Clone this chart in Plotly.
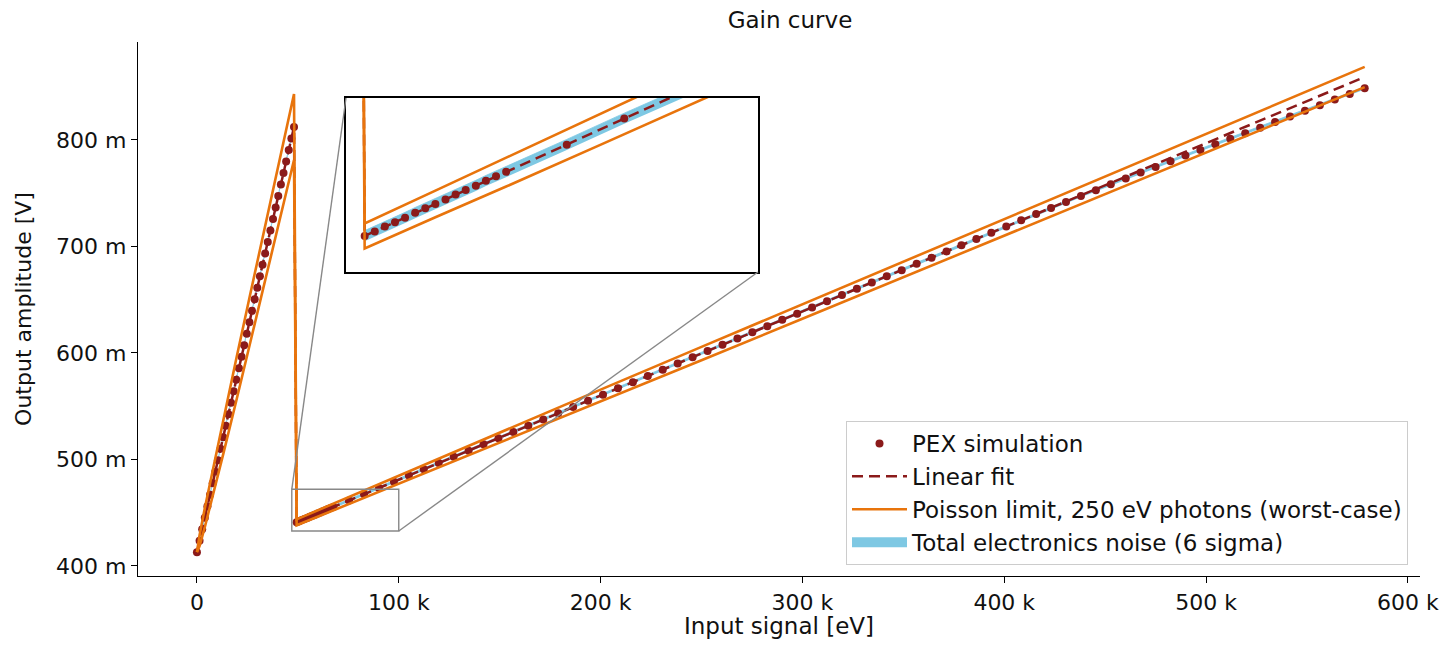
import plotly.graph_objects as go

# ---------------- data (input in keV, output in mV) ----------------
# high-gain range simulation points
hg_x = [0.0, 1.3, 2.6, 3.9, 5.2, 6.5, 7.8, 9.1, 10.4, 11.7, 13.0, 14.3, 15.6, 16.9,
        18.2, 19.5, 20.8, 22.1, 23.4, 24.7, 26.0, 27.3, 28.6, 29.9, 31.2, 32.5,
        33.8, 35.1, 36.4, 37.7, 39.0, 40.3, 41.6, 42.9, 44.2, 45.5, 46.8, 48.1]
hg_y = [413.0, 423.8, 434.6, 445.4, 456.2, 467.0, 477.7, 488.5, 499.3, 510.1,
        520.9, 531.7, 542.5, 553.3, 564.1, 574.9, 585.6, 596.4, 607.2, 618.0,
        628.8, 639.6, 650.4, 661.2, 672.0, 682.8, 693.5, 704.3, 715.1, 725.9,
        736.7, 747.5, 758.3, 769.1, 779.9, 790.7, 801.4, 812.2]

# low-gain range simulation points
lg_x = [49.4, 50.7, 52.0, 53.3, 54.6, 55.9, 57.2, 58.5, 59.8, 61.1, 62.4, 63.7,
        65.0, 66.3, 67.6,
        75.4, 82.8, 90.2, 97.6, 105.0, 112.4, 119.8, 127.2, 134.6, 142.0, 149.4,
        156.8, 164.2, 171.6, 179.0, 186.4, 193.8, 201.2, 208.6, 216.0, 223.4,
        230.8, 238.2, 245.6, 253.0, 260.4, 267.8, 275.2, 282.6, 290.0, 297.4,
        304.8, 312.2, 319.6, 327.0, 334.4, 341.8, 349.2, 356.6, 364.0, 371.4,
        378.8, 386.2, 393.6, 401.0, 408.4, 415.8, 423.2, 430.6, 438.0, 445.4,
        452.8, 460.2, 467.6, 475.0, 482.4, 489.8, 497.2, 504.6, 512.0, 519.4,
        526.8, 534.2, 541.6, 549.0, 556.4, 563.8, 571.2, 578.6]
lg_y = [441.0, 442.0, 443.1, 444.1, 445.1, 446.2, 447.2, 448.2, 449.2, 450.3,
        451.3, 452.3, 453.4, 454.4, 455.4,
        461.5, 467.4, 473.2, 479.1, 484.9, 490.8, 496.6, 502.5, 508.3, 514.2,
        520.0, 525.8, 531.7, 537.5, 543.4, 549.2, 555.1, 560.9, 566.8, 572.6,
        578.5, 584.3, 590.2, 596.0, 601.8, 607.7, 613.5, 619.4, 625.2, 631.1,
        636.9, 642.8, 648.6, 654.5, 660.3, 666.2, 672.0, 677.8, 683.7, 689.5,
        695.4, 701.2, 707.1, 712.9, 718.8, 724.6, 730.5, 736.1, 741.7, 747.4,
        752.9, 758.5, 763.9, 769.4, 774.7, 780.1, 785.4, 790.7, 795.9, 801.2,
        806.4, 811.6, 816.9, 822.1, 827.4, 832.6, 837.9, 843.2, 848.6]

# linear fit (both gain ranges)
fit_x = [0.0, 48.1, 49.4, 578.6]
fit_y = [413.0, 812.2, 441.0, 859.1]

# Poisson limit envelope (250 eV photons, worst case)
poisson_x = [0.0, 1.3, 3.9, 7.8, 13.0, 19.5, 26.0, 33.8, 41.6, 48.1,
             49.4, 58.5, 67.6, 80.0, 100.0, 150.0, 200.0, 250.0, 300.0, 350.0,
             400.0, 450.0, 500.0, 550.0, 578.6]
poisson_upper = [413.0, 428.9, 454.3, 490.2, 537.0, 594.6, 651.6, 719.5, 787.1, 843.2,
                 443.8, 451.2, 458.6, 468.7, 484.9, 525.3, 565.6, 605.7, 645.8, 685.9,
                 725.9, 765.9, 805.8, 845.7, 868.6]
poisson_lower = [413.0, 418.7, 436.5, 465.2, 504.8, 555.2, 606.0, 667.5, 729.5, 781.2,
                 438.2, 445.2, 452.1, 461.7, 477.0, 515.6, 554.4, 593.2, 632.1, 671.1,
                 710.1, 749.1, 788.2, 827.2, 849.6]

# total electronics noise (6 sigma), half width in mV
noise_half_mv = 1.2

x_tick_vals = [0, 100, 200, 300, 400, 500, 600]
x_tick_text = ["0", "100 k", "200 k", "300 k", "400 k", "500 k", "600 k"]
y_tick_vals = [400, 500, 600, 700, 800]
y_tick_text = ["400 m", "500 m", "600 m", "700 m", "800 m"]

x_range = [-29.2, 606.0]
y_range = [390.6, 892.0]
inset_x_range = [47.0, 100.0]
inset_y_range = [432.9, 472.0]

# ---------------- styling ----------------
FONT = "DejaVu Sans"
FS = 22
C_DOT = "#8b1a1a"
C_ORANGE = "#e8740c"
C_BLUE = "#7ec8e3"

sim_x = hg_x + lg_x
sim_y = hg_y + lg_y
noise_lo = [v - noise_half_mv for v in sim_y]
noise_hi = [v + noise_half_mv for v in sim_y]

fig = go.Figure()


def add_set(xa, ya, legend):
    fig.add_trace(go.Scatter(x=sim_x, y=noise_lo, mode="lines", line=dict(width=0, color=C_BLUE),
                             showlegend=False, hoverinfo="skip", xaxis=xa, yaxis=ya))
    fig.add_trace(go.Scatter(x=sim_x, y=noise_hi, mode="lines", line=dict(width=0.8, color=C_BLUE),
                             fill="tonexty", fillcolor=C_BLUE,
                             name="Total electronics noise (6 sigma)",
                             showlegend=False, xaxis=xa, yaxis=ya))
    fig.add_trace(go.Scatter(x=fit_x, y=fit_y, mode="lines",
                             line=dict(color=C_DOT, width=2.5, dash="11px,6px"),
                             name="Linear fit", legendrank=2, showlegend=legend,
                             xaxis=xa, yaxis=ya))
    fig.add_trace(go.Scatter(x=sim_x, y=sim_y, mode="markers",
                             marker=dict(color=C_DOT, size=8),
                             name="PEX simulation", legendrank=1, showlegend=legend,
                             xaxis=xa, yaxis=ya))
    fig.add_trace(go.Scatter(x=poisson_x, y=poisson_upper, mode="lines",
                             line=dict(color=C_ORANGE, width=2.6),
                             name="Poisson limit, 250 eV photons (worst-case)", legendrank=3,
                             showlegend=legend, xaxis=xa, yaxis=ya))
    fig.add_trace(go.Scatter(x=poisson_x, y=poisson_lower, mode="lines",
                             line=dict(color=C_ORANGE, width=2.6),
                             showlegend=False, xaxis=xa, yaxis=ya))


add_set("x", "y", True)
add_set("x2", "y2", False)

# legend swatch for the noise band (patch-like entry)
fig.add_trace(go.Scatter(x=[None], y=[None], mode="lines",
                         line=dict(color=C_BLUE, width=16),
                         name="Total electronics noise (6 sigma)", legendrank=4,
                         showlegend=True, hoverinfo="skip"))

# page geometry: the html body has an 8 px margin, so the figure is placed at (8, 8)
OFF = 8
W, H = 1451 - 2 * OFF, 647 - 2 * OFF
# plot area in page pixels: x 138..1420, y 42..576
ML, MT = 138 - OFF, 42 - OFF
PW, PH = 1420 - 138, 576 - 42
MR, MB = W - ML - PW, H - MT - PH


def px_to_paper_x(px):
    return (px - OFF - ML) / PW


def px_to_paper_y(py):
    return (MT + PH - (py - OFF)) / PH


inset_dom_x = [px_to_paper_x(346), px_to_paper_x(758)]
inset_dom_y = [px_to_paper_y(272), px_to_paper_y(98)]

axis_common = dict(showgrid=False, zeroline=False, showline=True, linecolor="black",
                   linewidth=1.2, ticks="outside", ticklen=6, tickwidth=1.2,
                   tickcolor="black", automargin=False,
                   tickfont=dict(family=FONT, size=FS, color="#111"))

fig.update_layout(
    width=W, height=H,
    margin=dict(l=ML, r=MR, t=MT, b=MB, autoexpand=False),
    plot_bgcolor="white", paper_bgcolor="white",
    font=dict(family=FONT, size=FS, color="#111"),
    title=dict(text="Gain curve", x=px_to_paper_x(790), xref="paper", y=1 - (20 - OFF) / H,
               yref="container", xanchor="center", yanchor="middle", automargin=False,
               font=dict(family=FONT, size=23)),
    xaxis=dict(range=x_range, tickvals=x_tick_vals, ticktext=x_tick_text,
               title=dict(text="Input signal [eV]", standoff=13, font=dict(size=23)),
               domain=[0, 1], **axis_common),
    yaxis=dict(range=y_range, tickvals=y_tick_vals, ticktext=y_tick_text,
               title=dict(text="Output amplitude [V]", standoff=18, font=dict(size=22)),
               domain=[0, 1], **axis_common),
    xaxis2=dict(range=inset_x_range, domain=inset_dom_x, anchor="y2", showticklabels=False,
                ticks="", showgrid=False, zeroline=False, showline=True, mirror=True,
                linecolor="black", linewidth=1.5, automargin=False),
    yaxis2=dict(range=inset_y_range, domain=inset_dom_y, anchor="x2", showticklabels=False,
                ticks="", showgrid=False, zeroline=False, showline=True, mirror=True,
                linecolor="black", linewidth=1.5, automargin=False),
    legend=dict(x=px_to_paper_x(1408), y=px_to_paper_y(565), xanchor="right", yanchor="bottom",
                bgcolor="rgba(255,255,255,0.85)", bordercolor="#cccccc", borderwidth=1,
                font=dict(family=FONT, size=23, color="#111"), itemwidth=55,
                traceorder="normal", tracegroupgap=0),
    showlegend=True,
)


def to_paper_x(v):
    return (v - x_range[0]) / (x_range[1] - x_range[0])


def to_paper_y(v):
    return (v - y_range[0]) / (y_range[1] - y_range[0])


# indicator rectangle of the zoomed region
fig.add_shape(type="rect", xref="x", yref="y",
              x0=inset_x_range[0], x1=inset_x_range[1], y0=inset_y_range[0], y1=inset_y_range[1],
              line=dict(color="#888888", width=1.4))
# connector lines (upper-left and lower-right corners)
fig.add_shape(type="line", xref="paper", yref="paper",
              x0=to_paper_x(inset_x_range[0]), y0=to_paper_y(inset_y_range[1]),
              x1=inset_dom_x[0], y1=inset_dom_y[1], line=dict(color="#888888", width=1.4))
fig.add_shape(type="line", xref="paper", yref="paper",
              x0=to_paper_x(inset_x_range[1]), y0=to_paper_y(inset_y_range[0]),
              x1=inset_dom_x[1], y1=inset_dom_y[0], line=dict(color="#888888", width=1.4))

fig.write_html("out.html")
